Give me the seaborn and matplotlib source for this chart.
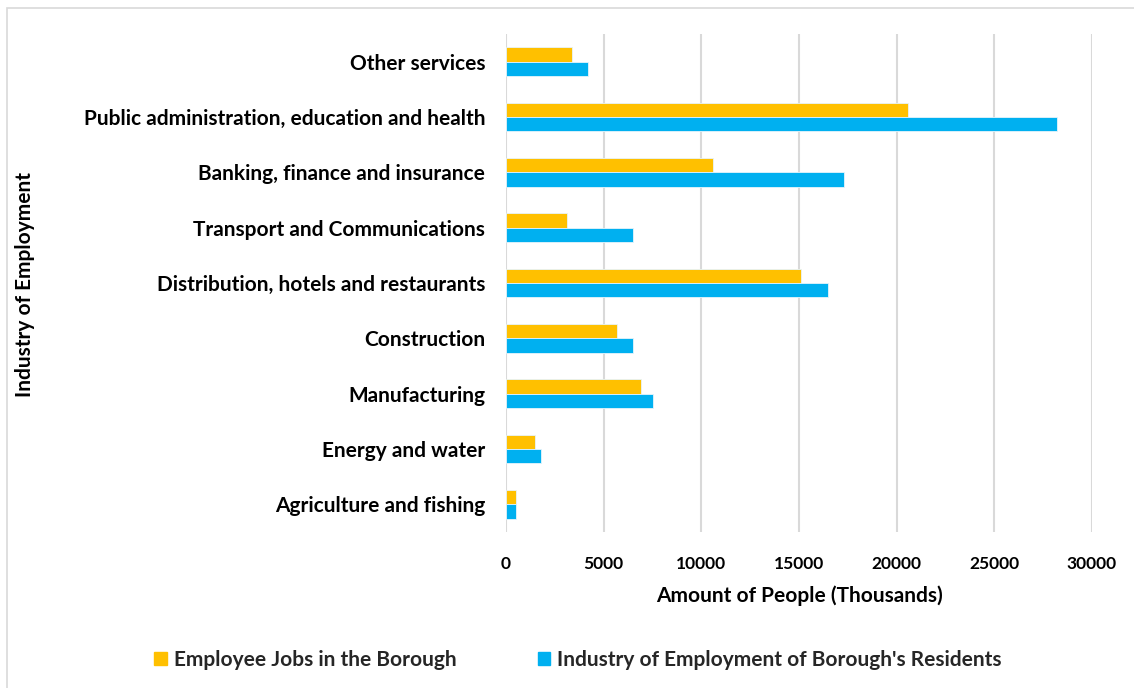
import matplotlib
matplotlib.use("Agg")
import matplotlib.pyplot as plt
from matplotlib.patches import Rectangle
import seaborn as sns
import pandas as pd

industries = [
    "Other services",
    "Public administration, education and health",
    "Banking, finance and insurance",
    "Transport and Communications",
    "Distribution, hotels and restaurants",
    "Construction",
    "Manufacturing",
    "Energy and water",
    "Agriculture and fishing",
]
employee_jobs = [3400, 20600, 10600, 3100, 15100, 5700, 6900, 1500, 500]
residents_employment = [4200, 28200, 17300, 6500, 16500, 6500, 7500, 1800, 500]
series_names = ["Employee Jobs in the Borough", "Industry of Employment of Borough's Residents"]
x_ticks = [0, 5000, 10000, 15000, 20000, 25000, 30000]

df = pd.DataFrame({
    "Industry": industries * 2,
    "Value": employee_jobs + residents_employment,
    "Series": [series_names[0]] * len(industries) + [series_names[1]] * len(industries),
})

sns.set_theme(style="white")
plt.rcParams["font.family"] = ["Lato", "DejaVu Sans"]

W, H = 1134, 688
fig = plt.figure(figsize=(W / 100, H / 100), dpi=100)
ax = fig.add_axes([506 / W, 1 - 532 / H, (1092 - 506) / W, (532 - 34) / H])

colors = {series_names[0]: "#FFC000", series_names[1]: "#00B0F0"}
sns.barplot(data=df, y="Industry", x="Value", hue="Series", palette=colors,
            order=industries, hue_order=series_names, orient="h",
            width=0.52, saturation=1, ax=ax, legend=False,
            edgecolor="#E6F4FB", linewidth=0.6)

ax.set_xlim(0, 30000)
ax.set_xticks(x_ticks)
ax.set_xticklabels([str(t) for t in x_ticks])
ax.xaxis.grid(True, color="#D9D9D9", linewidth=1.5)
ax.yaxis.grid(False)
ax.set_axisbelow(True)
for s in ax.spines.values():
    s.set_visible(False)

ax.tick_params(axis="x", length=0, pad=17, labelsize=12.5, labelcolor="black")
ax.tick_params(axis="y", length=0, pad=15, labelsize=15, labelcolor="black")
for lbl in ax.get_xticklabels() + ax.get_yticklabels():
    lbl.set_fontweight("bold")

ax.set_xlabel("Amount of People (Thousands)", fontsize=15, fontweight="bold",
              color="black", labelpad=10)
ax.set_ylabel("")
fig.text(25 / W, 1 - 284 / H, "Industry of Employment", rotation=90,
         ha="center", va="center", fontsize=15, fontweight="bold", color="black")

handles = [Rectangle((0, 0), 1, 1, color=colors[n]) for n in series_names]
fig.legend(handles, series_names, loc="center", bbox_to_anchor=(578 / W, 1 - 660 / H),
           ncol=2, frameon=False, handlelength=0.6, handleheight=0.6,
           handletextpad=0.35, columnspacing=3.9,
           prop={"size": 15, "weight": "bold", "family": ["Lato", "DejaVu Sans"]})

fig.patches.append(Rectangle((7 / W, -0.1), 1.2, 0.1 + 1 - 8 / H, transform=fig.transFigure,
                             fill=False, edgecolor="#D9D9D9", linewidth=1.2, figure=fig))

fig.savefig("out.png", dpi=100, facecolor="white")
